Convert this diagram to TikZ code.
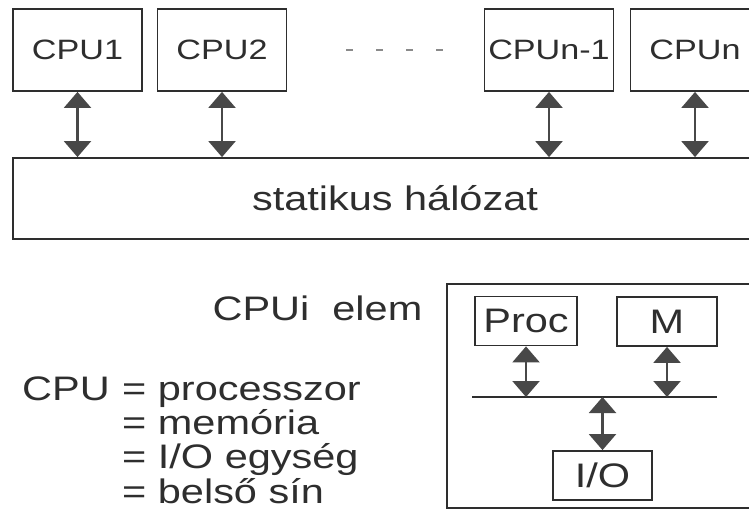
\documentclass[tikz,border=0pt]{standalone}
\usepackage{fontspec}
\setmainfont{Liberation Sans}[FakeStretch=1.22]
\usetikzlibrary{arrows.meta,positioning,calc}
\definecolor{ink}{HTML}{2E2E2E}
\definecolor{darkarrow}{HTML}{484848}
\definecolor{dashgray}{HTML}{8A8A8A}
\tikzset{cpubox/.style={draw=ink,line width=1.8pt,minimum width=129pt,minimum height=82pt,inner sep=1pt,text=ink,font=\fontsize{28}{30}\selectfont},netbox/.style={draw=ink,line width=1.8pt,minimum width=764pt,minimum height=81pt,inner sep=0pt,text=ink,font=\fontsize{34}{36}\selectfont},unitbox/.style={draw=ink,line width=1.8pt,minimum height=49pt,inner sep=1pt,text=ink,font=\fontsize{34}{36}\selectfont},plain/.style={inner sep=0pt,text=ink,font=\fontsize{34}{31}\selectfont},link/.style={{Triangle[length=16pt,width=27pt]}-{Triangle[length=16pt,width=27pt]},line width=2.2pt,draw=darkarrow},bus/.style={draw=ink,line width=1.8pt},dashline/.style={draw=dashgray,line width=1.5pt,dash pattern=on 7pt off 23pt}}

\begin{document}
\begin{tikzpicture}[x=1pt,y=-1pt]
\clip (0,0) rectangle (749,511);
\fill[white] (0,0) rectangle (749,511);
% processors and the network
\node[cpubox] (cpu1) at (77.5,50) {CPU1};
\node[cpubox] (cpu2) at (222,50) {CPU2};
\node[cpubox] (cpum) at (549,50) {CPUn-1};
\node[cpubox] (cpun) at (695,50) {CPUn};
\node[netbox] (net) at (395,198.5) {statikus hálózat};
\draw[dashline] ([xshift=59pt]cpu2.east) -- ([xshift=-40pt]cpum.west);
\draw[link](cpu1.south)--(cpu1.south |- net.north);\draw[link](cpu2.south)--(cpu2.south |- net.north);\draw[link](cpum.south)--(cpum.south |- net.north);\draw[link](cpun.south)--(cpun.south |- net.north);
% legend
\node[plain] (elem) at (317.5,308) {CPUi\ \ elem};
\node[plain,anchor=base east] (legkey) at (110,400) {CPU};
\node[plain,base right=12pt of legkey] (legval) {\begin{tabular}[t]{@{}l@{}}= processzor\\= memória\\= I/O egység\\= belső sín\end{tabular}};
% one element
\node[draw=ink,line width=1.8pt,minimum width=313pt,minimum height=224pt] (cpui) at (603.5,396) {};
\node[unitbox,minimum width=102pt] (proc) at (526,321) {Proc};
\node[unitbox,minimum width=100pt] (mem) at (667,321.5) {M};
\node[unitbox,minimum width=99pt] (io) at (602.5,475.5) {I/O};
\coordinate (busL) at (472,397);
\coordinate (busR) at (717,397);
\draw[bus](busL)--(busR);
\draw[link](proc)--(proc |- busL);\draw[link](mem)--(mem |- busL);\draw[link](io)--(io |- busL);
\end{tikzpicture}
\end{document}
